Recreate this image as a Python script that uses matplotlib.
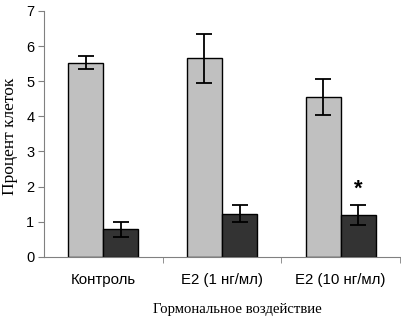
import numpy as np
import matplotlib.pyplot as plt

categories = ['Контроль', 'E2 (1 нг/мл)', 'E2 (10 нг/мл)']
light_vals = [5.53, 5.65, 4.55]
light_err = [0.18, 0.69, 0.52]
dark_vals = [0.78, 1.23, 1.19]
dark_err = [0.22, 0.23, 0.29]
y_ticks = [0, 1, 2, 3, 4, 5, 6, 7]

sans = ['Liberation Sans', 'DejaVu Sans']
serif = ['Liberation Serif', 'DejaVu Serif']

fig = plt.figure(figsize=(4.01, 3.23), dpi=100)
ax = fig.add_axes([44 / 401, 1 - 256.7 / 323, 356 / 401, (256.7 - 11) / 323])

x = np.arange(len(categories))
w = 0.295
ekw = dict(elinewidth=1.3, capthick=1.3, ecolor='black')
ax.bar(x - w / 2, light_vals, w, yerr=light_err, color='#c0c0c0',
       edgecolor='black', linewidth=1.0, capsize=5.5, error_kw=ekw)
ax.bar(x + w / 2, dark_vals, w, yerr=dark_err, color='#333333',
       edgecolor='black', linewidth=1.0, capsize=5.5, error_kw=ekw)

# significance mark
ax.text(x[2] + w / 2, dark_vals[2] + dark_err[2] + 0.45, '*',
        ha='center', va='center', fontsize=16, fontweight='bold',
        family=sans)

ax.set_xlim(-0.5, 2.5)
ax.set_ylim(0, 7)
ax.set_yticks(y_ticks)
ax.set_yticklabels([str(t) for t in y_ticks], family=sans, fontsize=10.5)

ax.set_xticks(x)
ax.set_xticklabels(categories, family=sans, fontsize=10.8)
ax.tick_params(axis='x', length=0, pad=12)
ax.set_xticks([0.5, 1.5, 2.5], minor=True)
ax.tick_params(axis='x', which='minor', length=4, color='#808080')
ax.tick_params(axis='y', length=4, color='#808080', pad=3)

for s in ['top', 'right']:
    ax.spines[s].set_visible(False)
ax.spines['left'].set_color('#808080')
ax.spines['bottom'].set_color('#808080')

ax.set_ylabel('Процент клеток', family=serif, fontsize=12.5)
ax.yaxis.set_label_coords(-0.074, 0.49)
ax.set_xlabel('Гормональное воздействие', family=serif, fontsize=10.6)
ax.xaxis.set_label_coords(0.543, -0.19)

fig.savefig('out.png', dpi=100)
